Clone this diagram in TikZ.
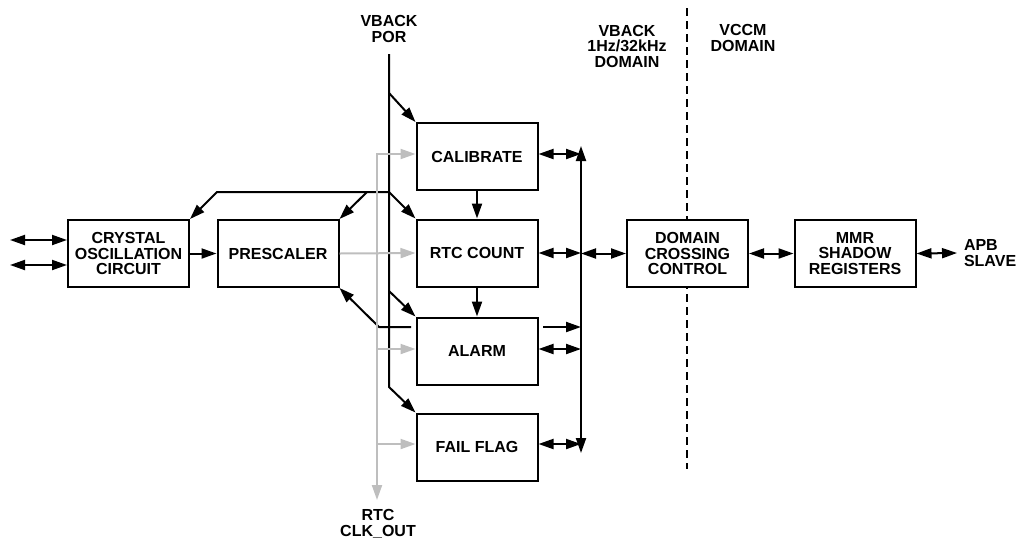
\documentclass[tikz,border=0pt]{standalone}
\usepackage{fontspec}
\setmainfont{Liberation Sans}
\usetikzlibrary{arrows.meta,calc}
\definecolor{clkgray}{RGB}{190,190,190}

\begin{document}
\begin{tikzpicture}[x=1pt,y=-1pt,line width=2pt,
    font=\bfseries\fontsize{16}{15.5}\selectfont,
    >={Triangle[length=15pt,width=10pt]},
    blk/.style={draw,fill=white,align=center,minimum width=121pt,minimum height=67pt,inner sep=0pt},
    lbl/.style={align=center,inner sep=0pt},
    clk/.style={draw=clkgray},
    domline/.style={dash pattern=on 8pt off 5pt}]
    \useasboundingbox (0,0) rectangle (1016,542);
    %境界線
    \coordinate (dom0) at (687,8);
    \coordinate (dom1) at (687,469);
    \draw[domline] (dom0) -- (dom1);
    %ブロック
    \node[blk] (xtal) at (128.5,253.5) {CRYSTAL\\OSCILLATION\\CIRCUIT};
    \node[blk] (pres) at (278,253.5) {PRESCALER};
    \node[blk] (cal) at (477,156.5) {CALIBRATE};
    \node[blk] (cnt) at (477,253) {RTC COUNT};
    \node[blk] (alarm) at (477,351) {ALARM};
    \node[blk] (fail) at (477,447) {FAIL FLAG};
    \node[blk] (dcc) at (687.5,253.5) {DOMAIN\\CROSSING\\CONTROL};
    \node[blk] (mmr) at (855,253.5) {MMR\\SHADOW\\REGISTERS};
    %ラベル
    \node[lbl] (porlbl) at (389,29) {VBACK\\POR};
    \node[lbl] (bkdom) at (627,46) {VBACK\\1Hz/32kHz\\DOMAIN};
    \node[lbl] (ccmdom) at (743,38) {VCCM\\DOMAIN};
    \node[lbl] (clklbl) at (378,524) {RTC\\CLK\_OUT};
    \node[lbl,anchor=west,align=left] (apb) at (963,253) {APB\\SLAVE};
    %補助点
    \coordinate (por0) at (389,54);
    \coordinate (por1) at (389,93);
    \coordinate (por2) at (389,192);
    \coordinate (por3) at (389,291);
    \coordinate (por4) at (389,387);
    \coordinate (fb0) at (217,192);
    \coordinate (fb1) at (367,192);
    \coordinate (al0) at (411,327);
    \coordinate (al1) at (379,327);
    \coordinate (al2) at (543,327);
    \coordinate (ck0) at (377,154);
    \coordinate (ck1) at (377,500);
    \coordinate (ck2) at (377,349);
    \coordinate (ck3) at (377,444);
    \coordinate (bus0) at (581,146);
    \coordinate (bus1) at (581,453);
    \coordinate (xl0) at (10,240);
    \coordinate (xl1) at (10,265);
    \coordinate (apb0) at (957,253);
    %POR
    \draw[->] (por0) -- (por4) -- (fail.north west);
    \draw[->] (por1) -- (cal.north west);
    \draw[->] (por2) -- (cnt.north west);
    \draw[->] (por3) -- (alarm.north west);
    %帰還
    \draw[->] (por2) -- (fb0) -- (xtal.north east);
    \draw[->] (fb1) -- (pres.north east);
    \draw[->] (al0) -- (al1) -- (pres.south east);
    %クロック
    \draw[clk,<->] (ck1) -- (ck0) -- (cal.west |- ck0);
    \draw[clk,->] (pres.east) -- (cnt.west);
    \draw[clk,->] (ck2) -- (alarm.west |- ck2);
    \draw[clk,->] (ck3) -- (fail.west |- ck3);
    %発振器
    \draw[<->] (xl0) -- (xtal.west |- xl0);
    \draw[<->] (xl1) -- (xtal.west |- xl1);
    \draw[->] (xtal) -- (pres);
    \draw[->] (cal) -- (cnt);
    \draw[->] (cnt) -- (alarm);
    %バス
    \draw[<->] (bus0) -- (bus1);
    \draw[<->] (cal.east |- ck0) -- (bus0 |- ck0);
    \draw[<->] (cnt.east) -- (bus0 |- cnt.east);
    \draw[->] (al2) -- (bus0 |- al2);
    \draw[<->] (alarm.east |- ck2) -- (bus0 |- ck2);
    \draw[<->] (fail.east |- ck3) -- (bus0 |- ck3);
    \draw[<->] (bus0 |- dcc.west) -- (dcc.west);
    \draw[<->] (dcc) -- (mmr);
    \draw[<->] (mmr.east) -- (apb0);
\end{tikzpicture}
\end{document}
